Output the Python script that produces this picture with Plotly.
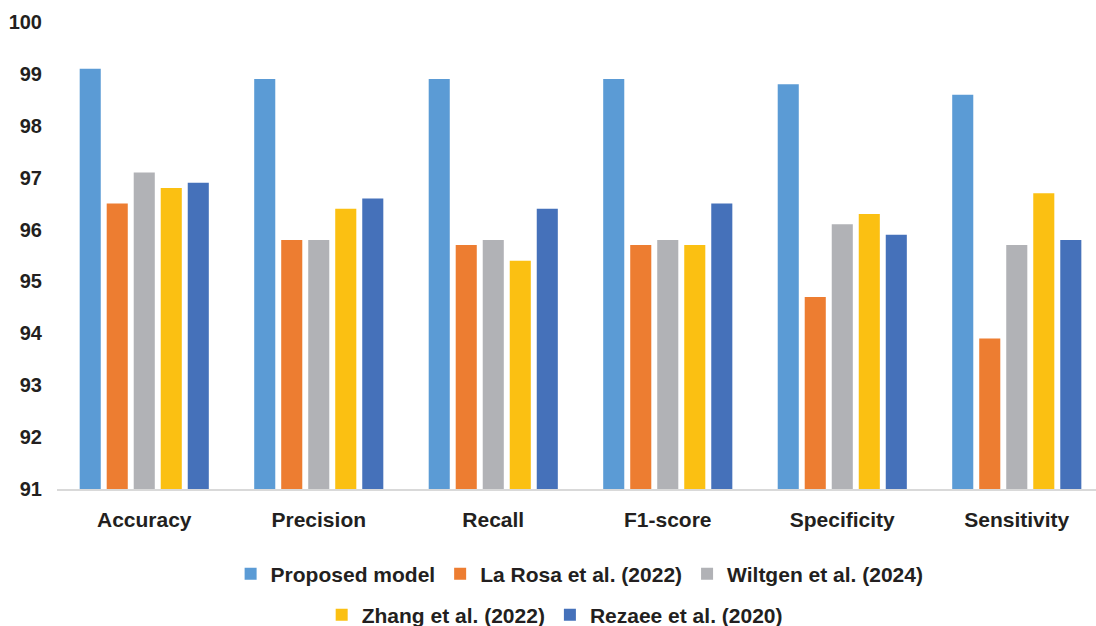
import plotly.graph_objects as go

categories = ["Accuracy", "Precision", "Recall", "F1-score", "Specificity", "Sensitivity"]
series_names = ["Proposed model", "La Rosa et al. (2022)", "Wiltgen et al. (2024)",
                "Zhang et al. (2022)", "Rezaee et al. (2020)"]
proposed = [99.1, 98.9, 98.9, 98.9, 98.8, 98.6]
la_rosa = [96.5, 95.8, 95.7, 95.7, 94.7, 93.9]
wiltgen = [97.1, 95.8, 95.8, 95.8, 96.1, 95.7]
zhang = [96.8, 96.4, 95.4, 95.7, 96.3, 96.7]
rezaee = [96.9, 96.6, 96.4, 96.5, 95.9, 95.8]
y_ticks = [91, 92, 93, 94, 95, 96, 97, 98, 99, 100]

series_values = [proposed, la_rosa, wiltgen, zhang, rezaee]
colors = ["#5B9BD5", "#ED7D31", "#B1B2B6", "#FBC012", "#4571BA"]
legend_ids = ["legend", "legend", "legend", "legend2", "legend2"]

FONT = "Liberation Sans, Arial, sans-serif"
TXT = "#231f20"

fig = go.Figure()
for name, vals, col, lg in zip(series_names, series_values, colors, legend_ids):
    fig.add_trace(go.Bar(
        x=categories, y=vals, name=name, legend=lg,
        marker=dict(color=col, line=dict(width=0)),
    ))

fig.update_layout(
    width=1096, height=626,
    margin=dict(l=57, r=0, t=22, b=137, autoexpand=False),
    paper_bgcolor="white", plot_bgcolor="white",
    barmode="group", bargap=0.226, bargroupgap=0.22,
    font=dict(family=FONT, size=21, color=TXT),
    xaxis=dict(
        range=[-0.5, 5.454], showgrid=False, showline=True,
        linecolor="#d9d9d9", linewidth=2,
        ticks="outside", ticklen=11, tickcolor="rgba(0,0,0,0)",
        tickfont=dict(family=FONT, size=21, color=TXT, weight="bold"),
    ),
    yaxis=dict(
        range=[91, 100], tickvals=y_ticks, showgrid=False, showline=False,
        zeroline=False,
        ticks="outside", ticklen=10, tickcolor="rgba(0,0,0,0)",
        tickfont=dict(family=FONT, size=20, color=TXT, weight="bold"),
    ),
    legend=dict(
        orientation="h", x=0.503, xanchor="center", y=-0.182, yanchor="middle",
        font=dict(family=FONT, size=21, color=TXT, weight="bold"),
        itemclick=False, bgcolor="rgba(0,0,0,0)",
    ),
    legend2=dict(
        orientation="h", x=0.479, xanchor="center", y=-0.27, yanchor="middle",
        font=dict(family=FONT, size=21, color=TXT, weight="bold"),
        itemclick=False, bgcolor="rgba(0,0,0,0)",
    ),
    showlegend=True,
)

fig.write_html("out.html")
